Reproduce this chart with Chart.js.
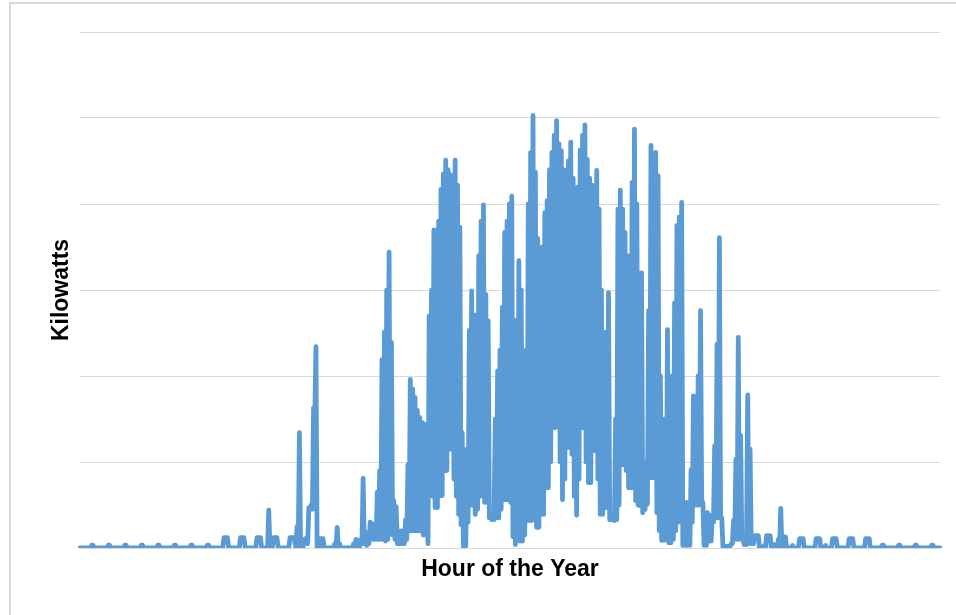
<!DOCTYPE html>
<html>
<head>
<meta charset="utf-8">
<script src="https://cdn.jsdelivr.net/npm/chart.js@4/dist/chart.umd.min.js"></script>
<style>
  html, body { margin: 0; padding: 0; background: #ffffff; }
  #wrap { position: relative; width: 956px; height: 615px; }
  canvas { display: block; }
</style>
</head>
<body>
<div id="wrap"><canvas id="c" width="956" height="615"></canvas></div>
<script>
// Daily daytime high (kW), one value per day of the year
const dailyHigh = [
  0,0,0,0,0,0.33,0,0,0,0,
  0,0,0.33,0,0,0,0,0,0,0.33,
  0,0,0,0,0,0,0.33,0,0,0,
  0,0,0,0.33,0,0,0,0,0,0,
  0.33,0,0,0,0,0,0,0.33,0,0,
  0,0,0,0,0.33,0,0,0,0,0,
  0,1.2,1.2,0,0,0,0,0,1.2,1.2,
  0,0,0,0,0,1.2,1.2,0,0,0,
  4.4,0,1.2,1.2,0,0,0,0,0,1.2,
  1.2,0.8,2.5,13.4,0,1.0,1.2,4.7,5.0,16.3,
  23.4,0,1.1,1.1,0,0,0,0,0.5,2.4,
  0.5,0,0,0,0,0,0.5,1.0,0.3,1.0,
  8.1,1.0,1.8,3.0,2.8,2.5,6.5,9.0,21.9,25.1,
  30.0,34.4,23.9,5.5,4.8,2.0,2.0,2.0,3.3,9.7,
  19.6,18.5,17.5,16.0,15.2,14.6,14.4,3.3,27.0,30.0,
  37.0,34.4,38.0,41.7,43.5,45.1,44.0,43.4,40.0,45.1,
  42.2,37.3,13.4,0.5,11.5,25.3,29.9,27.1,18.0,34.0,
  38.0,39.9,29.5,26.4,3.8,3.8,15.0,20.6,23.0,28.0,
  36.7,38.0,40.0,40.9,26.5,24.9,33.4,30.0,6.0,23.0,
  40.0,46.0,50.3,43.7,36.0,30.6,35.0,39.0,40.4,44.0,
  46.0,48.0,49.7,47.0,46.2,44.0,41.9,45.0,47.2,43.0,
  40.0,42.0,46.3,48.0,49.2,45.2,43.0,42.2,41.0,43.9,
  39.4,30.0,10.0,25.1,29.7,3.5,3.5,15.0,39.4,41.6,
  39.4,36.7,34.0,20.0,42.5,48.7,40.0,10.0,32.0,10.0,
  8.0,27.6,46.8,44.0,46.0,43.3,20.0,10.0,15.0,25.4,
  10.0,20.0,28.5,37.5,38.5,40.2,5.3,5.3,4.0,9.1,
  17.7,10.0,20.0,27.6,5.3,4.1,4.1,3.8,3.8,11.9,
  23.7,36.1,3.5,0.2,0.2,0.2,0.5,3.2,10.3,24.5,
  13.1,1.2,1.2,17.8,11.5,0.5,1.45,1.45,0,0,
  0.3,1.45,1.45,0,0.4,0,1.0,4.6,1.3,1.3,
  0,0,0.3,0,0,1.1,1.1,0,0,0,
  0,0,1.1,1.1,0,0,0.3,0,0,1.1,
  1.1,0,0,0,0,0,1.1,1.1,0,0,
  0,0,0,1.1,1.1,0,0,0,0,0,
  0.33,0,0,0,0,0,0,0.33,0,0,
  0,0,0,0,0.33,0,0,0,0,0,
  0,0.33,0,0,0
];
// Overnight low (kW) following each day's high
const dailyLow = [
  0,0,0,0,0,0.33,0,0,0,0,
  0,0,0.33,0,0,0,0,0,0,0.33,
  0,0,0,0,0,0,0.33,0,0,0,
  0,0,0,0.33,0,0,0,0,0,0,
  0.33,0,0,0,0,0,0,0.33,0,0,
  0,0,0,0,0.33,0,0,0,0,0,
  0,1.2,1.2,0,0,0,0,0,1.2,1.2,
  0,0,0,0,0,1.2,1.2,0,0,0,
  0,0,1.2,1.2,0,0,0,0,0,1.2,
  1.2,0,0.5,0,0,0.8,0.5,4.5,4.5,15.0,
  0,0,1.1,0,0,0,0,0,0,0,
  0,0,0,0,0,0,0,0.5,0,0.5,
  0.5,0.3,0.5,1.5,1.0,1.0,1.0,1.0,1.0,0.8,
  1.0,2.0,1.5,1.0,0.5,0.5,0.5,0.5,1.0,2.0,
  2.0,2.0,2.0,2.0,2.0,1.5,3.3,0.5,8.0,6.0,
  4.7,4.7,6.1,6.1,9.0,9.0,11.5,11.5,8.0,6.0,
  3.9,2.7,0.2,0.2,3.0,5.0,5.0,3.9,4.5,6.0,
  6.1,5.3,5.3,3.5,3.3,3.3,3.5,3.5,4.5,5.6,
  5.6,5.6,5.3,1.3,0.4,1.0,0.8,0.8,1.5,3.2,
  3.2,3.2,4.9,2.4,2.4,3.9,3.9,7.0,7.0,10.0,
  14.0,14.0,17.5,10.0,5.6,8.0,11.7,11.7,10.9,6.0,
  3.8,8.0,14.0,14.0,10.0,7.6,7.6,11.3,11.3,8.0,
  3.9,3.9,4.7,4.7,3.3,3.3,3.2,3.3,5.0,9.7,
  9.7,9.0,7.0,7.0,7.0,5.5,5.0,4.9,4.1,4.5,
  5.1,8.2,8.2,8.2,4.1,2.0,0.9,0.9,1.0,0.6,
  0.6,1.0,2.0,3.0,3.0,0.3,0.3,0.3,0.3,3.0,
  5.0,5.0,5.0,5.3,0.3,0.3,0.8,0.8,3.0,3.5,
  3.5,3.5,0.2,0.2,0.2,0.2,0.5,1.0,1.0,1.0,
  1.0,0.4,0.4,0.5,0.5,0.5,1.45,1.45,0,0,
  0,1.45,1.45,0,0,0,0,0,1.3,0,
  0,0,0,0,0,1.1,1.1,0,0,0,
  0,0,1.1,1.1,0,0,0,0,0,1.1,
  1.1,0,0,0,0,0,1.1,1.1,0,0,
  0,0,0,1.1,1.1,0,0,0,0,0,
  0.33,0,0,0,0,0,0,0.33,0,0,
  0,0,0,0,0.33,0,0,0,0,0,
  0,0.33,0,0,0
];
const yMax = 60;
const yStep = 10;
const xTitle = 'Hour of the Year';
const yTitle = 'Kilowatts';

// Table for the library: midday high then night low for every day, labelled by hour of the year
const hourLabels = [];
const kwSeries = [];
dailyHigh.forEach((hi, d) => {
  hourLabels.push(d * 24 + 12, d * 24 + 24);
  kwSeries.push(hi, dailyLow[d]);
});

const frame = {
  id: 'frame',
  beforeDraw(chart) {
    const ctx = chart.ctx;
    ctx.save();
    ctx.fillStyle = '#ffffff';
    ctx.fillRect(0, 0, chart.width, chart.height);
    ctx.fillStyle = '#D9D9D9';
    ctx.fillRect(9, 2, 2, chart.height - 2);
    ctx.fillRect(9, 2, chart.width - 9, 2);
    ctx.restore();
  }
};

const titleFont = { family: '"Liberation Sans", Arial, sans-serif', size: 23, weight: 'bold' };

new Chart(document.getElementById('c'), {
  type: 'line',
  data: {
    labels: hourLabels,
    datasets: [{
      label: 'Kilowatts',
      data: kwSeries,
      borderColor: '#5B9BD5',
      backgroundColor: '#5B9BD5',
      borderWidth: 4.8,
      pointRadius: 0,
      pointHoverRadius: 0,
      tension: 0,
      borderJoinStyle: 'round',
      borderCapStyle: 'round',
      fill: false
    }]
  },
  options: {
    responsive: false,
    animation: false,
    events: [],
    layout: { padding: { left: 40, right: 16, top: 32, bottom: 10 } },
    plugins: {
      legend: { display: false },
      tooltip: { enabled: false },
      title: { display: false }
    },
    scales: {
      x: {
        type: 'category',
        offset: false,
        grid: { display: false, drawTicks: false },
        border: { display: false },
        ticks: { display: false },
        title: {
          display: true,
          text: xTitle,
          color: '#000000',
          font: titleFont,
          padding: { top: 8.2, bottom: 21.2 }
        }
      },
      y: {
        min: 0,
        max: yMax,
        grid: { color: '#D9D9D9', lineWidth: 1, drawTicks: false },
        border: { display: false },
        ticks: { display: false, stepSize: yStep },
        title: {
          display: true,
          text: yTitle,
          color: '#000000',
          font: titleFont,
          padding: { top: 8, bottom: 4.4 }
        }
      }
    }
  },
  plugins: [frame]
});
</script>
</body>
</html>
